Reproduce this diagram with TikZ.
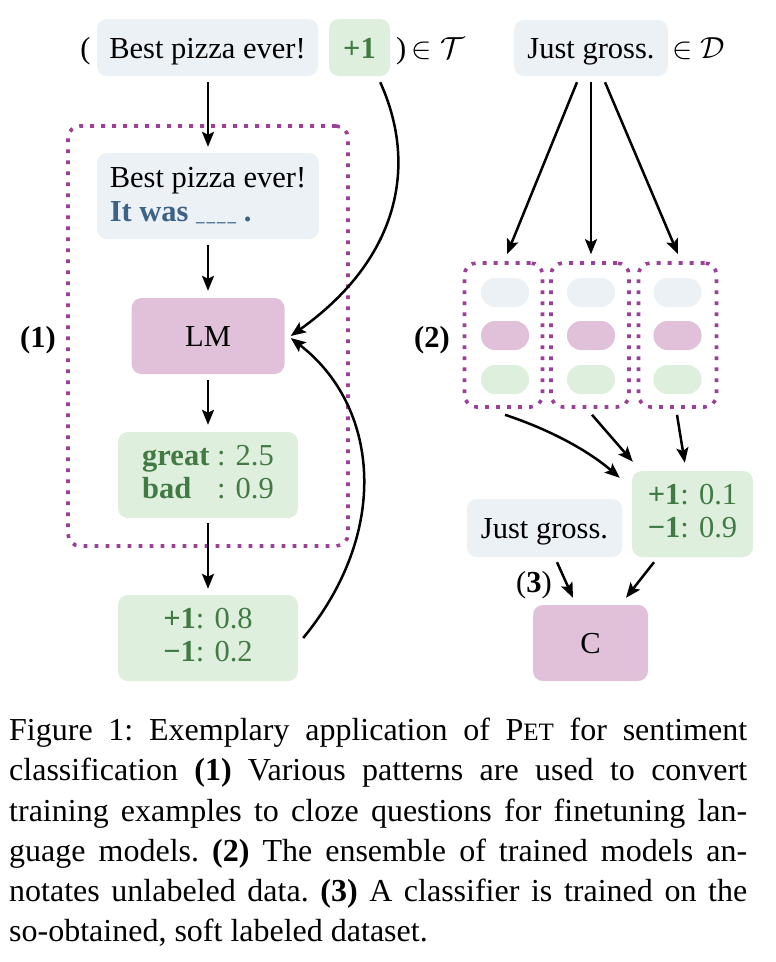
\RequirePackage{fix-cm}
\documentclass[tikz,border=0pt]{standalone}
\usepackage{fontspec}
\setmainfont{Liberation Serif}
\usetikzlibrary{arrows.meta,calc}
\definecolor{bbox}{HTML}{ECF1F6}
\definecolor{gbox}{HTML}{DFEFDE}
\definecolor{pbox}{HTML}{E0C1D9}
\definecolor{dpurple}{HTML}{9B3F97}
\definecolor{tgreen}{HTML}{417B43}
\definecolor{tblue}{HTML}{3C6285}
\newcommand\diagfont{\fontsize{30.5}{33}\selectfont}
\newcommand\capfont{\fontsize{32}{40.2}\selectfont}
\newcommand\clozeblank{{\fontsize{17}{17}\selectfont\_\kern2pt\_\kern2pt\_\kern2pt\_}}
\begin{document}
\begin{tikzpicture}[x=1pt,y=-1pt,
  box/.style={rounded corners=10pt,inner sep=0pt,font=\diagfont},
  sl/.style={text height=21pt,text depth=0pt},
  bluebox/.style={box,fill=bbox},
  greenbox/.style={box,fill=gbox,text=tgreen},
  pinkbox/.style={box,fill=pbox},
  dotbox/.style={draw=dpurple,line width=3.6pt,dash pattern=on 3.8pt off 7.2pt,rounded corners=12pt,inner sep=0pt},
  pill/.style={rounded corners=14pt,minimum width=48pt,minimum height=29pt,inner sep=0pt},
  arr/.style={-{Stealth[length=15pt,width=12pt,inset=3pt]},line width=2.5pt},
  lbl/.style={font=\diagfont,inner sep=0pt,anchor=base}]
\fill[white] (0,0) rectangle (776,962);
\useasboundingbox (0,0) rectangle (776,962);

% ---- left part (1)
\node[dotbox,minimum width=280pt,minimum height=420pt] (d1) at (208,336) {};
\node[bluebox,sl,minimum width=221pt,minimum height=57pt] (tb) at (207.5,47.5) {Best pizza ever!};
\node[greenbox,sl,minimum width=61pt,minimum height=57pt,font=\diagfont\bfseries] (tp) at (359.5,47.5) {+1};
\node[lbl] (lpar) at (85.5,58) {(};
\node[lbl,anchor=base west] (inT) at (396,58) {)\,$\in\mathcal{T}$};
\node[bluebox,minimum width=222pt,minimum height=86pt,align=left] (pat) at (208,196)
  {Best pizza ever!\\[1pt]\textcolor{tblue}{\bfseries It was \clozeblank{} .}};
\node[pinkbox,sl,minimum width=153pt,minimum height=76pt] (lm) at (208,336) {LM};
\node[greenbox,minimum width=180pt,minimum height=86pt] (vb) at (208,475)
  {\begin{tabular}{@{}l@{ }l@{}}\textbf{great} & : 2.5\\ \textbf{bad} & : 0.9\end{tabular}};
\node[greenbox,minimum width=180pt,minimum height=86pt] (out) at (208,638)
  {\begin{tabular}{@{}l@{}}\textbf{+1}: 0.8\\ \textbf{−1}: 0.2\end{tabular}};
\node[lbl,font=\diagfont\bfseries] (l1) at (38,347) {(1)};

\draw[arr] ($(tb.south)+(0.5,6)$) -- ($(pat.north)+(0,-6)$);
\draw[arr] ($(pat.south)+(0,6)$) -- ($(lm.north)+(0,-7)$);
\draw[arr] ($(lm.south)+(0,6)$) -- ($(vb.north)+(0,-7)$);
\draw[arr] ($(vb.south)+(0,5)$) -- ($(out.north)+(0,-6)$);
\draw[arr] ($(tp.south east)+(-10,6)$) .. controls (420,170) and (395,262) .. ($(lm.east)+(6,0)$);
\draw[arr] ($(out.east)+(5,0)$) .. controls (392,530) and (378,405) .. ($(lm.east)+(6,2)$);

% ---- right part (2),(3)
\node[bluebox,sl,minimum width=154pt,minimum height=56pt] (jg) at (591,48) {Just gross.};
\node[lbl,anchor=base west] (inD) at (672,58) {$\in\mathcal{D}$};
\node[lbl,font=\diagfont\bfseries] (l2) at (432,347) {(2)};

\node[dotbox,minimum width=78pt,minimum height=144pt] (e1) at (503.5,335) {};
\node[dotbox,minimum width=78pt,minimum height=144pt] (e2) at (590,335) {};
\node[dotbox,minimum width=78pt,minimum height=144pt] (e3) at (677.5,335) {};
\node[pill,fill=bbox] (p11) at (505,292.5) {};
\node[pill,fill=pbox] (p12) at (505,335.5) {};
\node[pill,fill=gbox] (p13) at (505,379.5) {};
\node[pill,fill=bbox] (p21) at (591,292.5) {};
\node[pill,fill=pbox] (p22) at (591,335.5) {};
\node[pill,fill=gbox] (p23) at (591,379.5) {};
\node[pill,fill=bbox] (p31) at (677.5,292.5) {};
\node[pill,fill=pbox] (p32) at (677.5,335.5) {};
\node[pill,fill=gbox] (p33) at (677.5,379.5) {};

\node[greenbox,minimum width=121pt,minimum height=86pt] (res) at (692.5,514)
  {\begin{tabular}{@{}l@{}}\textbf{+1}: 0.1\\ \textbf{−1}: 0.9\end{tabular}};
\node[bluebox,sl,minimum width=155pt,minimum height=58pt] (jg2) at (544.5,528) {Just gross.};
\node[pinkbox,sl,minimum width=115pt,minimum height=76pt] (cl) at (590.5,643) {C};
\node[lbl] (l3) at (534,592) {(\textbf{3})};

\draw[arr] ($(jg.south)+(-14,6)$) -- ($(e1.north)+(3.5,-7)$);
\draw[arr] ($(jg.south)+(0,6)$) -- ($(e2.north)+(1,-7)$);
\draw[arr] ($(jg.south)+(14,6)$) -- ($(e3.north)+(0.5,-7)$);
\draw[arr] ($(e1.south)+(1.5,6)$) .. controls (545,428) and (585,448) .. ($(res.north west)+(-12,7)$);
\draw[arr] ($(e2.south)+(2,6)$) -- ($(res.north west)+(1,-9)$);
\draw[arr] ($(e3.south)+(-0.5,6)$) -- ($(res.north west)+(53,-8)$);
\draw[arr] ($(jg2.south)+(12.5,5)$) -- ($(cl.north)+(-17.5,-7)$);
\draw[arr] ($(res.south)+(-38.5,5)$) -- ($(cl.north)+(35.5,-7)$);

% ---- caption
\node[anchor=north west,inner sep=0pt,text width=738pt,align=justify,font=\capfont] (cap) at (9,718)
  {\frenchspacing\hyphenpenalty=10000\tolerance=10000\emergencystretch=20pt
   Figure 1: Exemplary application of P{\fontsize{25}{25}\selectfont ET} for sentiment\linebreak
   classification \textbf{(1)} Various patterns are used to convert\linebreak
   training examples to cloze questions for finetuning lan-\linebreak
   guage models.\ \textbf{(2)} The ensemble of trained models an-\linebreak
   notates unlabeled data. \textbf{(3)} A classifier is trained on the\linebreak
   so-obtained, soft labeled dataset.};
\end{tikzpicture}
\end{document}
